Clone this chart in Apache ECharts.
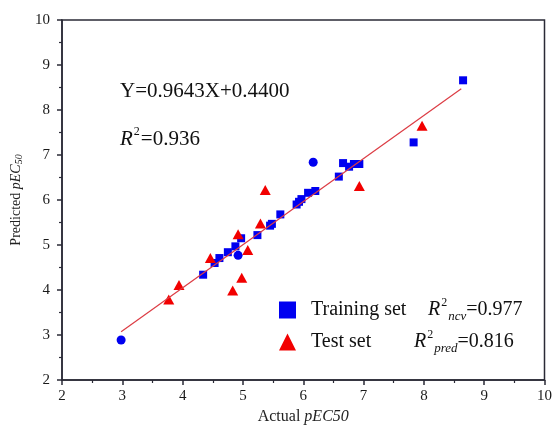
<!DOCTYPE html>
<html>
<head>
<meta charset="utf-8">
<script src="https://cdn.jsdelivr.net/npm/echarts@6/dist/echarts.min.js"></script>
<style>
html,body{margin:0;padding:0;background:#fff;}
#chart{width:555px;height:430px;}
</style>
</head>
<body>
<div id="chart"></div>
<script>
// Training set (squares)
var trainX = [4.34, 4.53, 4.61, 4.75, 4.875, 4.97, 5.24, 5.45, 5.48, 5.62, 5.89, 5.93, 5.97, 6.08, 6.2, 6.59, 6.66, 6.76, 6.84, 6.93, 7.83, 8.65];
var trainY = [4.34, 4.6, 4.71, 4.84, 4.97, 5.15, 5.22, 5.43, 5.47, 5.68, 5.9, 5.96, 6.02, 6.16, 6.2, 6.52, 6.82, 6.74, 6.8, 6.8, 7.28, 8.66];
// Training set (points drawn as round dots)
var trainDotX = [2.98, 4.92, 6.165];
var trainDotY = [2.89, 4.77, 6.84];
// Test set
var testX = [3.77, 3.94, 4.46, 4.83, 4.92, 4.98, 5.08, 5.29, 5.37, 6.93, 7.97];
var testY = [3.79, 4.11, 4.71, 3.99, 5.24, 4.27, 4.89, 5.48, 6.22, 6.31, 7.65];
// Fitted line end points
var fitX = [2.98, 8.62];
var fitY = [3.07, 8.47];
// Axis ticks
var axisMin = 2, axisMax = 10, axisStep = 1;
var equationText = 'Y=0.9643X+0.4400';
var r2Text = '=0.936';
var r2ncvText = '=0.977';
var r2predText = '=0.816';

function zip(xs, ys){ return xs.map(function(x,i){ return [x, ys[i]]; }); }

var FONT = 'Liberation Serif';
var AX = '#2a2a36';
var BLUE = '#0000f0';
var RED = '#f20000';
var chart = echarts.init(document.getElementById('chart'), null, {renderer:'canvas'});

var richBase = {
  ri: {fontFamily: FONT, fontStyle: 'italic', fontSize: 20, color: '#111', lineHeight: 26},
  v: {fontFamily: FONT, fontSize: 20, color: '#111', lineHeight: 26},
  sup: {fontFamily: FONT, fontSize: 12, color: '#111', lineHeight: 12, verticalAlign: 'top', padding: [0,1,0,1]},
  sub: {fontFamily: FONT, fontStyle: 'italic', fontSize: 13, color: '#111', lineHeight: 12, verticalAlign: 'bottom'},
  n1: {fontFamily: FONT, fontSize: 20, color: '#111', width: 117, lineHeight: 26},
  n2: {fontFamily: FONT, fontSize: 20, color: '#111', width: 103, lineHeight: 26}
};

var option = {
  backgroundColor: '#fff',
  animation: false,
  grid: {left: 62, right: 7, top: 20, bottom: 47, show: true, borderColor: AX, borderWidth: 1.5, backgroundColor: 'transparent'},
  xAxis: {
    type: 'value', min: axisMin, max: axisMax, interval: axisStep,
    name: '{a|Actual }{b|pEC50}', nameLocation: 'middle', nameGap: 29,
    nameTextStyle: {rich: {
      a: {fontFamily: FONT, fontSize: 16, color: '#222'},
      b: {fontFamily: FONT, fontSize: 16, fontStyle: 'italic', color: '#222'}
    }},
    axisLine: {show: true, lineStyle: {color: AX, width: 1.5}},
    axisTick: {show: true, inside: false, length: 5, lineStyle: {color: AX, width: 1.5}},
    minorTick: {show: true, splitNumber: 2, length: 3, lineStyle: {color: AX, width: 1.2}},
    splitLine: {show: false},
    axisLabel: {fontFamily: FONT, fontSize: 15, color: '#1a1a1a', margin: 9}
  },
  yAxis: {
    type: 'value', min: axisMin, max: axisMax, interval: axisStep,
    name: '{a|Predicted }{b|pEC}{c|50}', nameLocation: 'middle', nameGap: 26,
    nameTextStyle: {rich: {
      a: {fontFamily: FONT, fontSize: 14, color: '#222', lineHeight: 16},
      b: {fontFamily: FONT, fontSize: 14, fontStyle: 'italic', color: '#222', lineHeight: 16},
      c: {fontFamily: FONT, fontSize: 10, fontStyle: 'italic', color: '#222', lineHeight: 10, verticalAlign: 'bottom'}
    }},
    axisLine: {show: true, lineStyle: {color: AX, width: 1.5}},
    axisTick: {show: true, inside: false, length: 5, lineStyle: {color: AX, width: 1.5}},
    minorTick: {show: true, splitNumber: 2, length: 3, lineStyle: {color: AX, width: 1.2}},
    splitLine: {show: false},
    axisLabel: {fontFamily: FONT, fontSize: 15, color: '#1a1a1a', margin: 12}
  },
  legend: {
    orient: 'vertical', left: 274, top: 292, itemWidth: 17, itemHeight: 17, itemGap: 6,
    data: [{name: 'Training set', icon: 'rect'}, {name: 'Test set', icon: 'triangle'}],
    textStyle: {padding: [0,0,0,10], rich: richBase},
    formatter: function(name){
      if (name === 'Training set') return '{n1|Training set}{ri|R}{sup|2}{sub|ncv}{v|' + r2ncvText + '}';
      return '{n2|Test set}{ri|R}{sup|2}{sub|pred}{v|' + r2predText + '}';
    }
  },
  graphic: [
    {type: 'text', left: 120, top: 81, style: {text: equationText, fontFamily: FONT, fontSize: 21, fill: '#111'}},
    {type: 'text', left: 120, top: 126, style: {
      text: '{ri|R}{sup|2}{v|' + r2Text + '}',
      rich: {
        ri: {fontFamily: FONT, fontStyle: 'italic', fontSize: 21, fill: '#111', lineHeight: 26},
        v: {fontFamily: FONT, fontSize: 21, fill: '#111', lineHeight: 26},
        sup: {fontFamily: FONT, fontSize: 12, fill: '#111', lineHeight: 12, verticalAlign: 'top', padding: [0,1,0,1]}
      }
    }}
  ],
  series: [
    {name: 'Training set', type: 'scatter', symbol: 'rect', symbolSize: 8, itemStyle: {color: BLUE, opacity: 1}, data: zip(trainX, trainY), z: 3},
    {name: 'Training set', type: 'scatter', symbol: 'circle', symbolSize: 9, itemStyle: {color: BLUE, opacity: 1}, data: zip(trainDotX, trainDotY), z: 3},
    {name: 'Test set', type: 'scatter', symbol: 'triangle', symbolSize: [11, 10], itemStyle: {color: RED, opacity: 1}, data: zip(testX, testY), z: 3},
    {name: 'fit', type: 'line', symbol: 'none', data: zip(fitX, fitY), lineStyle: {color: '#dc3c44', width: 1.2}, z: 4, silent: true}
  ]
};
chart.setOption(option);
</script>
</body>
</html>
